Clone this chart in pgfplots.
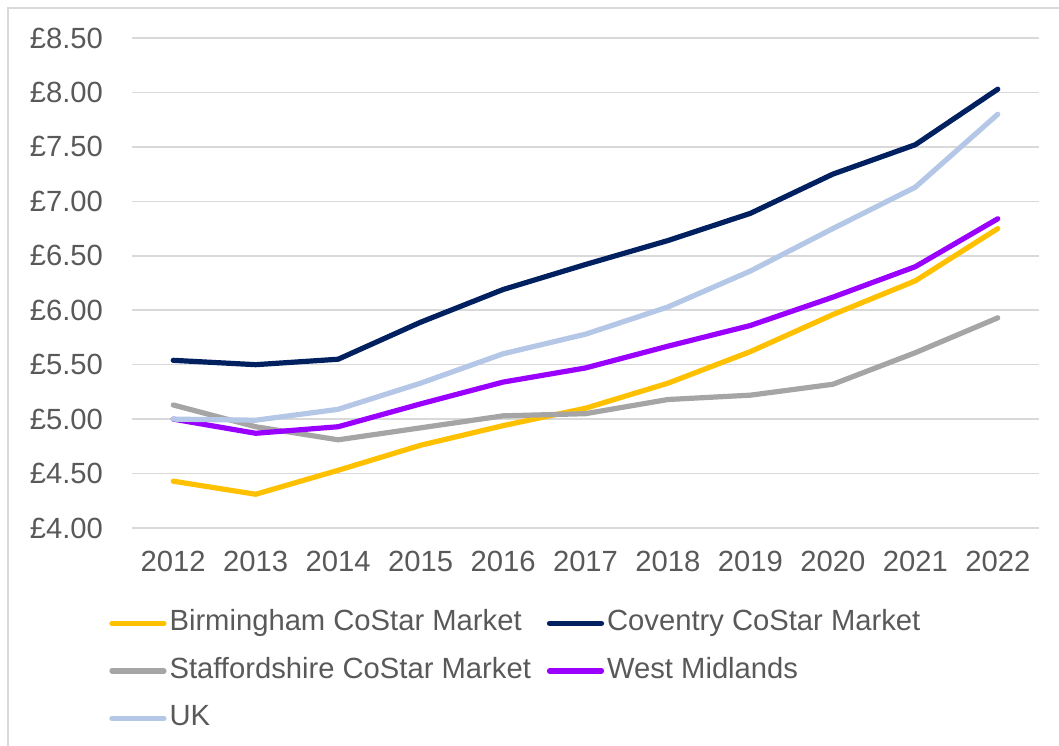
\documentclass[border=0pt]{standalone}
\usepackage{fontspec}
\setmainfont{Liberation Sans}
\usepackage{pgfplots}
\pgfplotsset{compat=1.18}
\definecolor{txt}{HTML}{595959}
\definecolor{gridc}{HTML}{D9D9D9}
\definecolor{bham}{HTML}{FFC000}
\definecolor{cov}{HTML}{002060}
\definecolor{staf}{HTML}{A5A5A5}
\definecolor{wm}{HTML}{9900FF}
\definecolor{uk}{HTML}{B4C7E7}
\begin{document}
\begin{tikzpicture}
\path[use as bounding box] (0bp,0bp) rectangle (529.5bp,-373bp);
\draw[gridc,line width=0.75bp] (4bp,-500bp) -- (4bp,-4bp) -- (600bp,-4bp);
\begin{axis}[
  at={(66bp,-264bp)}, anchor=south west,
  scale only axis, width=453.5bp, height=245bp,
  xmin=-0.5, xmax=10.5, ymin=4, ymax=8.5,
  xtick={0,...,10},
  xticklabels={2012,2013,2014,2015,2016,2017,2018,2019,2020,2021,2022},
  ytick={4,4.5,5,5.5,6,6.5,7,7.5,8,8.5},
  yticklabel={£\pgfmathprintnumber[fixed,fixed zerofill,precision=2]{\tick}},
  /pgf/number format/assume math mode=true,
  axis line style={draw=none},
  major tick length=0pt,
  ymajorgrids, grid style={gridc,line width=0.75bp},
  tick label style={font=\fontsize{14.6bp}{17bp}\selectfont, text=txt},
  xticklabel style={yshift=-8.1bp},
  yticklabel style={xshift=-11bp},
  legend columns=2,
  legend cell align=left,
  legend image code/.code={\draw[#1] (0bp,0bp) -- (26bp,0bp);},
  legend style={at={(axis description cs:-0.0254,-0.1663)}, anchor=north west,
    draw=none, fill=none, inner sep=0pt,
    font=\fontsize{14.6bp}{17bp}\selectfont, text=txt,
    nodes={inner sep=0pt, text height=10.5bp, text depth=3bp},
    row sep=10.25bp,
    /tikz/every odd column/.append style={column sep=1.5bp},
    /tikz/every even column/.append style={column sep=8bp}},
  every axis plot/.append style={line width=2.6bp, line cap=round, line join=round},
]
\addplot[bham] coordinates {(0,4.43) (1,4.31) (2,4.53) (3,4.76) (4,4.94) (5,5.10) (6,5.33) (7,5.62) (8,5.96) (9,6.27) (10,6.75)};
\addlegendentry{Birmingham CoStar Market}
\addplot[cov] coordinates {(0,5.54) (1,5.50) (2,5.55) (3,5.89) (4,6.19) (5,6.42) (6,6.64) (7,6.89) (8,7.25) (9,7.52) (10,8.03)};
\addlegendentry{Coventry CoStar Market}
\addplot[staf] coordinates {(0,5.13) (1,4.93) (2,4.81) (3,4.92) (4,5.03) (5,5.05) (6,5.18) (7,5.22) (8,5.32) (9,5.61) (10,5.93)};
\addlegendentry{Staffordshire CoStar Market}
\addplot[wm] coordinates {(0,5.00) (1,4.87) (2,4.93) (3,5.14) (4,5.34) (5,5.47) (6,5.67) (7,5.86) (8,6.12) (9,6.40) (10,6.84)};
\addlegendentry{West Midlands}
\addplot[uk] coordinates {(0,5.00) (1,4.99) (2,5.09) (3,5.33) (4,5.60) (5,5.78) (6,6.03) (7,6.36) (8,6.75) (9,7.13) (10,7.80)};
\addlegendentry{UK}
\end{axis}
\end{tikzpicture}
\end{document}
